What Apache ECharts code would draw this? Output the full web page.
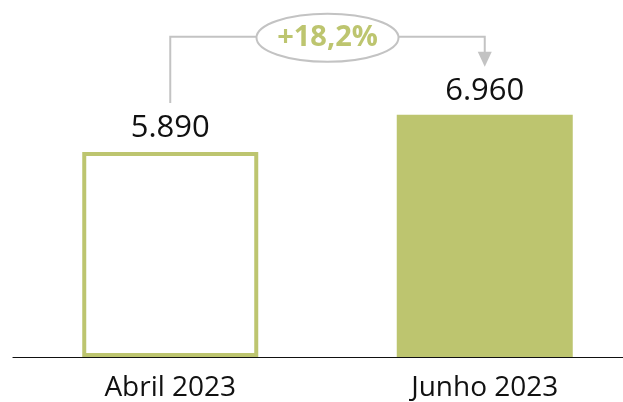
<!DOCTYPE html>
<html>
<head>
<meta charset="utf-8">
<script src="https://cdn.jsdelivr.net/npm/echarts@6/dist/echarts.min.js"></script>
<style>
  html, body { margin: 0; padding: 0; background: #fff; }
  #chart { width: 623px; height: 402px; }
</style>
</head>
<body>
<div id="chart"></div>
<script>
var categories = ['Abril 2023', 'Junho 2023'];
var values = [5890, 6960];

var olive = '#bdc56f';
var grey = '#c3c3c3';

// 5890 -> "5.890"
function fmt(v) {
    return String(v).replace(/\B(?=(\d{3})+(?!\d))/g, '.');
}

var chart = echarts.init(document.getElementById('chart'));

chart.setOption({
    animation: false,
    grid: { left: 13, right: -19, top: 9, bottom: 45, outerBoundsMode: 'none' },
    xAxis: {
        type: 'category',
        data: categories,
        axisLine: { lineStyle: { color: '#111', width: 1.2 } },
        axisTick: { show: false },
        axisLabel: {
            color: '#111',
            fontFamily: 'Open Sans',
            fontSize: 28,
            margin: 17
        }
    },
    yAxis: {
        type: 'value',
        min: 0,
        max: 10000,
        show: false,
        splitLine: { show: false }
    },
    series: [{
        type: 'bar',
        barWidth: 176,
        z: 1,
        data: [
            { value: values[0], itemStyle: { color: '#fff', borderColor: olive, borderWidth: 4 } },
            { value: values[1], itemStyle: { color: olive } }
        ],
        label: {
            show: true,
            position: 'top',
            distance: 8,
            color: '#111',
            fontFamily: 'Open Sans',
            fontSize: 31,
            formatter: function (p) { return fmt(p.value); }
        }
    }]
});

// annotation: growth arrow from first bar to second
var p1 = chart.convertToPixel({ seriesIndex: 0 }, [0, values[0]]);
var p2 = chart.convertToPixel({ seriesIndex: 0 }, [1, values[1]]);
var topY = p2[1] - 78;
var tipY = p2[1] - 48;
var midX = (p1[0] + p2[0]) / 2;
var pct = ((values[1] / values[0] - 1) * 100).toFixed(1).replace('.', ',');

chart.setOption({
    graphic: [
        {
            type: 'polyline',
            shape: { points: [[p1[0], p1[1] - 49], [p1[0], topY], [p2[0], topY], [p2[0], tipY - 12]] },
            style: { stroke: grey, lineWidth: 2, fill: null }
        },
        {
            type: 'polygon',
            shape: { points: [[p2[0] - 7, tipY - 15], [p2[0] + 7, tipY - 15], [p2[0], tipY]] },
            style: { fill: grey }
        },
        {
            type: 'ellipse',
            shape: { cx: midX, cy: topY + 1, rx: 71, ry: 24 },
            style: { fill: '#fff', stroke: grey, lineWidth: 2 },
            z: 10
        },
        {
            type: 'text',
            x: midX,
            y: topY + 1,
            z: 11,
            style: {
                text: '+' + pct + '%',
                fill: olive,
                font: 'bold 29px "Open Sans"',
                align: 'center',
                verticalAlign: 'middle'
            }
        }
    ]
});
</script>
</body>
</html>
